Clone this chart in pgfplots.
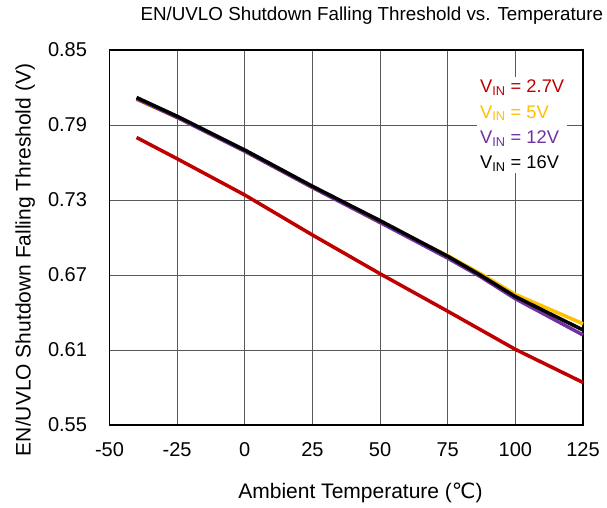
\documentclass[border=0pt]{standalone}
\usepackage{pgfplots}
\pgfplotsset{compat=1.18}
\usepackage{fontspec}
\setmainfont{Liberation Sans}
\newfontfamily\dejavu{DejaVu Sans}
\definecolor{cRed}{HTML}{C00000}
\definecolor{cYel}{HTML}{FFC000}
\definecolor{cPur}{HTML}{7030A0}

\begin{document}
\begin{tikzpicture}[x=1bp,y=1bp]
\path (-109.5,-83) rectangle (497.5,425);
\begin{axis}[
    scale only axis,
    width=473.5bp, height=375bp,
    at={(0,0)}, anchor=south west,
    xmin=-50, xmax=125, ymin=0.55, ymax=0.85,
    xtick={-50,-25,...,125},
    ytick={0.55,0.61,0.67,0.73,0.79,0.85},
    yticklabel style={/pgf/number format/fixed, /pgf/number format/fixed zerofill, /pgf/number format/precision=2},
    /pgf/number format/assume math mode=true,
    grid=major,
    major grid style={draw=black!65, line width=0.9bp},
    axis line style={line width=1.8bp},
    major tick length=0pt,
    tick label style={font=\fontsize{20bp}{24bp}\selectfont},
    xticklabel style={yshift=-14bp},
    yticklabel style={xshift=-19bp},
    clip=false,
    legend style={at={(0.776,0.928)}, anchor=north west, draw=none, fill=white,
        font=\fontsize{18.3bp}{22bp}\selectfont, inner sep=1bp,
        row sep=7bp, cells={anchor=west}},
    legend image code/.code={},
]
\addplot[cRed, line width=3.5bp] coordinates {
    (-40,0.780) (-25,0.763) (0,0.734) (25,0.702) (50,0.671) (75,0.641) (100,0.6105) (125,0.584)
};
\addlegendentry{\textcolor{cRed}{V\textsubscript{IN} = 2.7V}}
\addplot[cYel, line width=3.5bp] coordinates {
    (-40,0.8105) (-25,0.796) (0,0.769) (25,0.740) (50,0.712) (75,0.6855) (87,0.6712) (100,0.6545) (125,0.631)
};
\addlegendentry{\textcolor{cYel}{V\textsubscript{IN} = 5V}}
\addplot[cPur, line width=3.5bp] coordinates {
    (-40,0.811) (-25,0.796) (0,0.769) (25,0.740) (50,0.712) (75,0.6835) (87,0.6688) (100,0.651) (125,0.622)
};
\addlegendentry{\textcolor{cPur}{V\textsubscript{IN} = 12V}}
\addplot[black, line width=3.5bp] coordinates {
    (-40,0.812) (-25,0.797) (0,0.770) (25,0.741) (50,0.7135) (75,0.685) (87,0.670) (100,0.6527) (125,0.626)
};
\addlegendentry{\textcolor{black}{V\textsubscript{IN} = 16V}}
\node[inner sep=0pt, font=\fontsize{18.8bp}{22bp}\selectfont] at (rel axis cs:0.554,1.091) {EN/UVLO Shutdown Falling Threshold vs. Temperature};
\node[inner sep=0pt, font=\fontsize{21bp}{25bp}\selectfont] at (rel axis cs:0.530,-0.181) {Ambient Temperature ({\dejavu ℃})};
\node[inner sep=0pt, rotate=90, font=\fontsize{21bp}{25bp}\selectfont] at (rel axis cs:-0.178,0.44) {EN/UVLO Shutdown Falling Threshold (V)};
\end{axis}
\end{tikzpicture}
\end{document}
